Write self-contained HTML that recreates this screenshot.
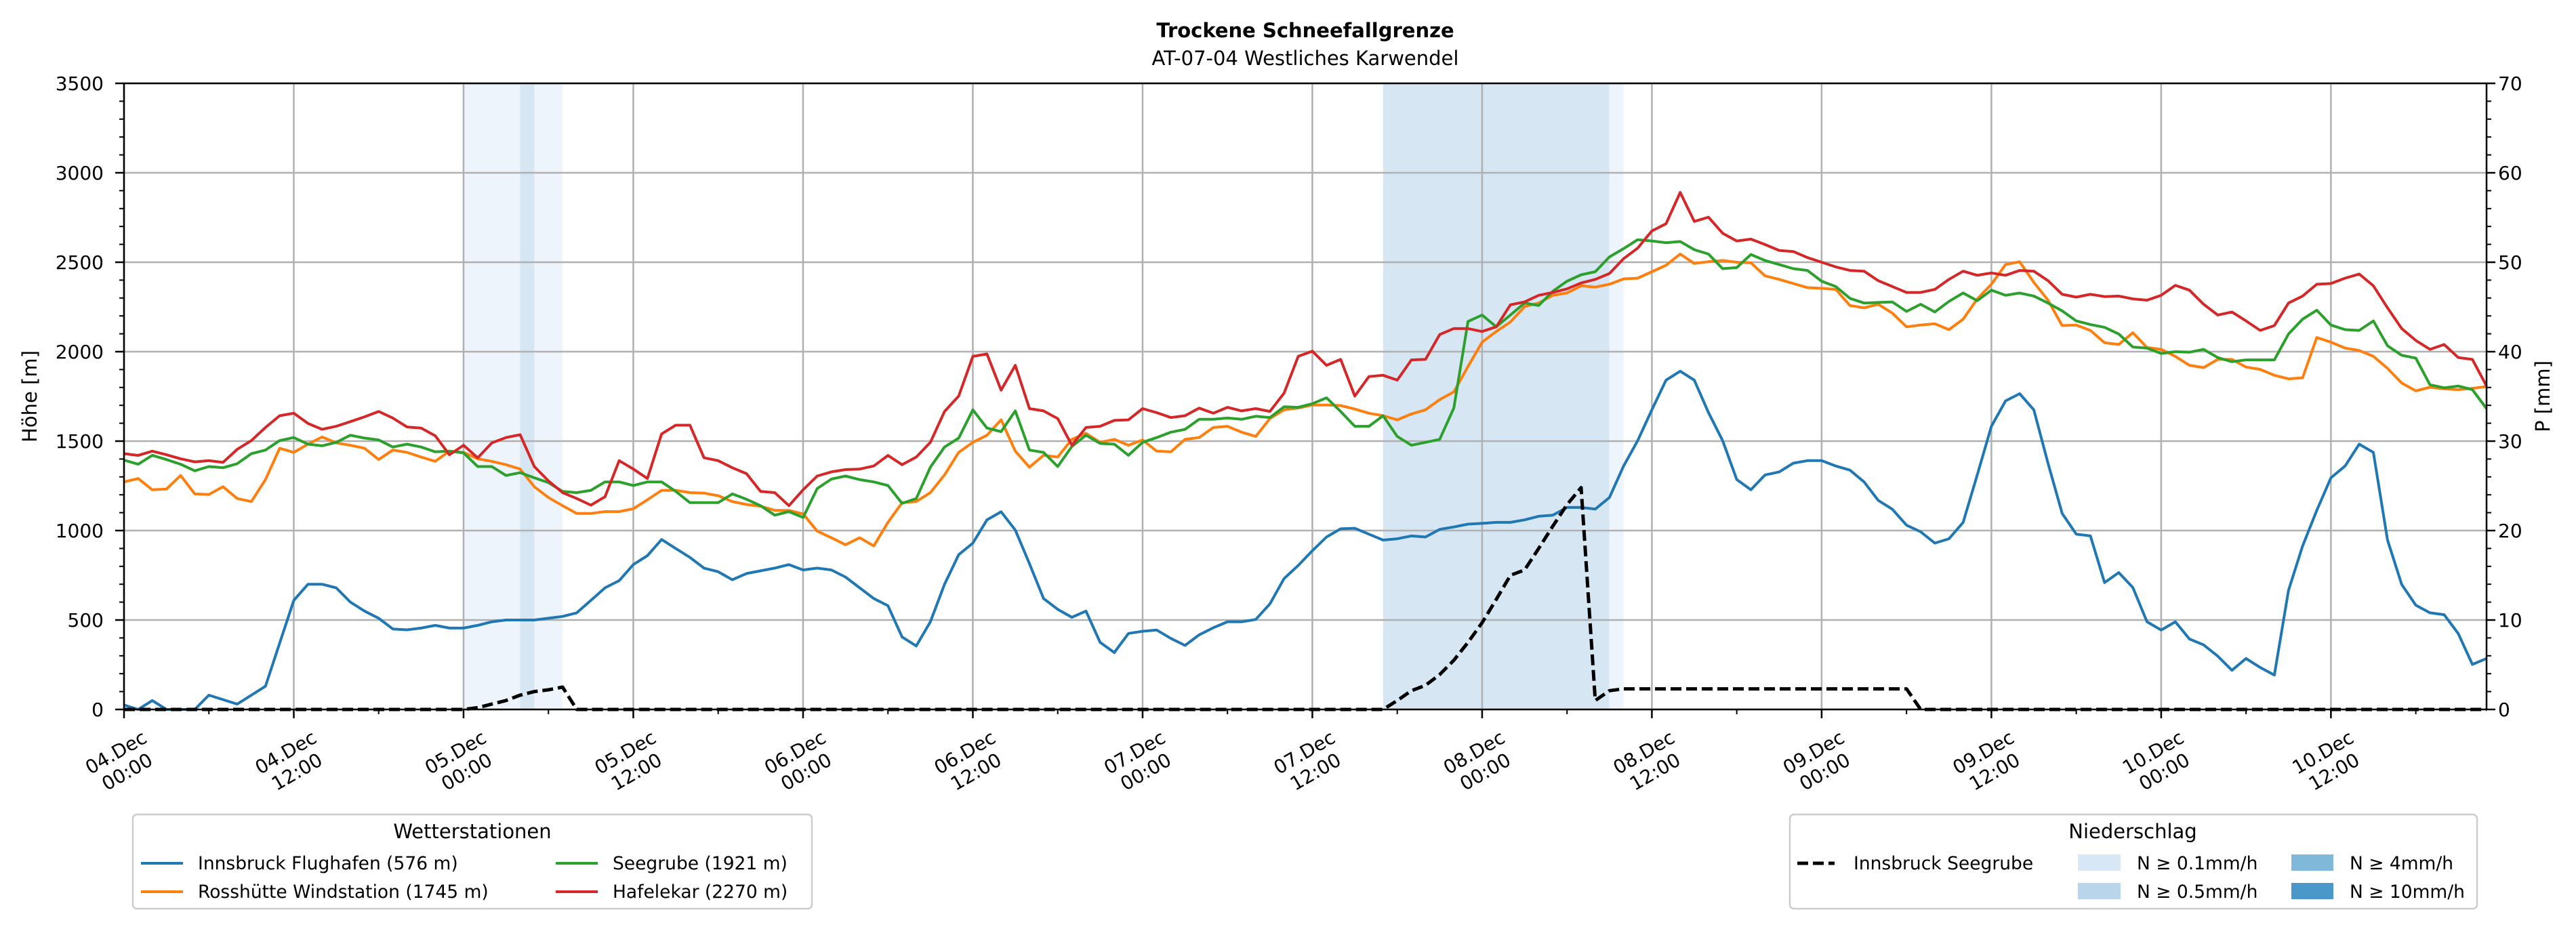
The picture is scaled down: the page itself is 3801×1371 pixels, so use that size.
<!DOCTYPE html>
<html><head><meta charset="utf-8"><style>
html,body{margin:0;padding:0;background:#fff}
svg{display:block}
text{font-family:"DejaVu Sans","Liberation Sans",sans-serif;fill:#000}
</style></head>
<body>
<svg id="chart" width="3801" height="1371" viewBox="0 0 3801 1371" xmlns="http://www.w3.org/2000/svg">
<rect x="0" y="0" width="3801" height="1371" fill="#fff"/>
<text x="1926" y="55" text-anchor="middle" font-size="29" font-weight="bold">Trockene Schneefallgrenze</text>
<text x="1926" y="96" text-anchor="middle" font-size="29">AT-07-04 Westliches Karwendel</text>
<g id="bands"></g>
<g id="grid"></g>
<g id="series"></g>
<g id="axes"></g>
<text transform="translate(54,585) rotate(-90)" text-anchor="middle" font-size="29">Höhe [m]</text>
<text transform="translate(3762,585) rotate(-90)" text-anchor="middle" font-size="29">P [mm]</text>

<g>
<rect x="196" y="1202" width="1002" height="139" rx="6" fill="#fff" stroke="#cccccc" stroke-width="2.5"/>
<text x="697" y="1237" text-anchor="middle" font-size="29">Wetterstationen</text>
<g><line x1="208" y1="1274" x2="270" y2="1274" stroke="#1f77b4" stroke-width="4"/><text x="292" y="1283" font-size="26.5">Innsbruck Flughafen (576 m)</text></g>
<g><line x1="208" y1="1316" x2="270" y2="1316" stroke="#ff7f0e" stroke-width="4"/><text x="292" y="1325" font-size="26.5">Rosshütte Windstation (1745 m)</text></g>
<g><line x1="820" y1="1274" x2="882" y2="1274" stroke="#2ca02c" stroke-width="4"/><text x="904" y="1283" font-size="26.5">Seegrube (1921 m)</text></g>
<g><line x1="820" y1="1316" x2="882" y2="1316" stroke="#d62728" stroke-width="4"/><text x="904" y="1325" font-size="26.5">Hafelekar (2270 m)</text></g>
</g>

<g>
<rect x="2641" y="1202" width="1014" height="139" rx="6" fill="#fff" stroke="#cccccc" stroke-width="2.5"/>
<text x="3147" y="1237" text-anchor="middle" font-size="29">Niederschlag</text>
<g><line x1="2652" y1="1274" x2="2707" y2="1274" stroke="#000" stroke-width="5" stroke-dasharray="16,7"/><text x="2735" y="1283" font-size="26.5">Innsbruck Seegrube</text></g>
<g><rect x="3066" y="1261" width="63" height="24" fill="#d8e7f5"/><text x="3153" y="1283" font-size="26.5">N ≥ 0.1mm/h</text></g>
<g><rect x="3066" y="1303" width="63" height="24" fill="#b9d5eb"/><text x="3153" y="1325" font-size="26.5">N ≥ 0.5mm/h</text></g>
<g><rect x="3381" y="1261" width="62" height="24" fill="#80b8da"/><text x="3467" y="1283" font-size="26.5">N ≥ 4mm/h</text></g>
<g><rect x="3381" y="1303" width="62" height="24" fill="#4a97c9"/><text x="3467" y="1325" font-size="26.5">N ≥ 10mm/h</text></g>
</g>
</svg>
<script>
const innsbruck=[25,0,50,0,0,0,80,55,30,80,130,370,610,700,700,680,600,550,510,450,445,455,470,455,455,470,490,500,500,500,510,520,540,610,680,720,810,860,950,900,850,790,770,725,760,775,790,810,780,790,780,740,680,620,580,405,355,490,700,865,930,1060,1105,1003,815,620,560,515,550,375,318,425,437,444,397,358,417,457,490,490,503,590,732,805,887,964,1010,1013,980,947,954,970,964,1007,1020,1036,1040,1046,1046,1060,1080,1086,1129,1129,1120,1185,1361,1503,1675,1841,1891,1841,1660,1503,1285,1228,1311,1328,1377,1391,1391,1361,1338,1272,1169,1119,1030,993,930,954,1046,1311,1583,1725,1765,1675,1377,1096,980,970,709,765,682,490,444,490,394,361,298,219,285,235,192,666,914,1113,1295,1361,1483,1437,947,699,583,540,530,424,252,285];
const rosshuette=[1272,1291,1228,1232,1308,1205,1202,1245,1179,1162,1285,1460,1437,1483,1523,1490,1477,1460,1397,1450,1437,1411,1387,1444,1437,1401,1387,1368,1344,1245,1185,1139,1096,1096,1106,1106,1122,1172,1225,1225,1212,1209,1195,1162,1146,1136,1113,1113,1093,997,960,921,960,914,1046,1156,1162,1212,1311,1437,1493,1533,1619,1444,1354,1421,1411,1510,1543,1493,1510,1477,1507,1444,1440,1510,1520,1576,1583,1550,1526,1626,1675,1685,1702,1702,1699,1679,1656,1642,1619,1652,1675,1732,1775,1917,2053,2113,2166,2252,2272,2315,2328,2368,2361,2377,2407,2411,2447,2483,2546,2493,2503,2510,2500,2497,2424,2404,2381,2358,2354,2348,2258,2245,2265,2215,2139,2149,2156,2123,2182,2295,2377,2487,2503,2387,2288,2146,2149,2119,2050,2040,2106,2023,2013,1974,1924,1911,1957,1957,1914,1901,1868,1848,1854,2079,2053,2020,2007,1974,1907,1825,1781,1801,1792,1788,1795,1805];
const seegrube=[1394,1371,1421,1397,1371,1334,1358,1351,1374,1430,1450,1503,1520,1483,1474,1493,1533,1517,1507,1467,1483,1467,1440,1444,1434,1358,1358,1308,1324,1295,1268,1219,1212,1225,1272,1272,1252,1272,1272,1219,1156,1156,1156,1205,1175,1139,1086,1106,1073,1235,1288,1305,1285,1272,1252,1152,1179,1354,1467,1517,1675,1573,1553,1669,1450,1437,1358,1470,1533,1487,1483,1421,1493,1520,1550,1566,1622,1622,1629,1622,1639,1632,1692,1689,1709,1742,1666,1583,1583,1642,1526,1477,1493,1510,1685,2169,2205,2139,2205,2272,2258,2338,2394,2430,2447,2530,2576,2626,2619,2609,2616,2570,2546,2464,2470,2543,2510,2487,2464,2454,2394,2364,2298,2272,2275,2278,2225,2265,2222,2281,2328,2285,2344,2315,2328,2311,2272,2228,2172,2152,2136,2099,2026,2020,1990,2000,1997,2013,1967,1944,1954,1954,1954,2099,2182,2232,2149,2123,2119,2172,2033,1980,1964,1815,1798,1808,1788,1682];
const hafelekar=[1430,1420,1444,1424,1401,1384,1391,1381,1454,1503,1576,1642,1656,1599,1566,1583,1609,1636,1666,1629,1579,1573,1530,1424,1477,1407,1490,1520,1536,1358,1278,1212,1179,1142,1189,1391,1344,1291,1540,1589,1589,1407,1391,1351,1318,1219,1212,1139,1228,1305,1328,1341,1344,1361,1420,1368,1411,1493,1666,1752,1974,1987,1785,1924,1682,1669,1626,1477,1576,1583,1616,1619,1682,1659,1632,1642,1685,1656,1689,1669,1682,1666,1768,1974,2003,1924,1957,1752,1861,1868,1841,1954,1957,2096,2129,2129,2113,2139,2262,2278,2315,2331,2351,2384,2404,2437,2520,2579,2675,2715,2890,2728,2752,2662,2619,2629,2599,2566,2560,2526,2500,2474,2454,2450,2397,2364,2331,2331,2348,2404,2450,2427,2440,2427,2454,2450,2397,2321,2305,2321,2308,2311,2295,2288,2315,2371,2344,2265,2205,2222,2172,2119,2146,2272,2311,2377,2381,2411,2434,2368,2245,2129,2063,2013,2040,1967,1957,1808];
const seegrubePrecip=[0,0,0,0,0,0,0,0,0,0,0,0,0,0,0,0,0,0,0,0,0,0,0,0,0,0.2,0.6,1.0,1.6,2.0,2.2,2.5,0,0,0,0,0,0,0,0,0,0,0,0,0,0,0,0,0,0,0,0,0,0,0,0,0,0,0,0,0,0,0,0,0,0,0,0,0,0,0,0,0,0,0,0,0,0,0,0,0,0,0,0,0,0,0,0,0,0,1.0,2.1,2.7,3.9,5.5,7.5,9.7,12.3,15.0,15.6,18.0,20.5,22.9,24.8,1.0,2.1,2.3,2.3,2.3,2.3,2.3,2.3,2.3,2.3,2.3,2.3,2.3,2.3,2.3,2.3,2.3,2.3,2.3,2.3,2.3,2.3,2.3,0,0,0,0,0,0,0,0,0,0,0,0,0,0,0,0,0,0,0,0,0,0,0,0,0,0,0,0,0,0,0,0,0,0,0,0,0,0,0,0,0];
const bandStart=[24,28,89,105];
const bandEnd=[31,29,105,106];
const bandLevel=[0.1,0.5,0.5,0.1];
const yTicks=[0,500,1000,1500,2000,2500,3000,3500];
const y2Ticks=[0,10,20,30,40,50,60,70];
const xTickDays=["04.Dec","04.Dec","05.Dec","05.Dec","06.Dec","06.Dec","07.Dec","07.Dec","08.Dec","08.Dec","09.Dec","09.Dec","10.Dec","10.Dec"];
const xTickTimes=["00:00","12:00","00:00","12:00","00:00","12:00","00:00","12:00","00:00","12:00","00:00","12:00","00:00","12:00"];

const NS="http://www.w3.org/2000/svg";
const L=183,R=3669,T=123,B=1047,HMAX=167,YMAX=3500,Y2MAX=70;
const xs=h=>L+h*(R-L)/HMAX;
const ys=v=>B-v*(B-T)/YMAX;
const y2s=v=>B-v*(B-T)/Y2MAX;
function mk(tag,attrs,parent){const e=document.createElementNS(NS,tag);for(const k in attrs)e.setAttribute(k,attrs[k]);parent.appendChild(e);return e;}
const gB=document.getElementById('bands'),gG=document.getElementById('grid'),gS=document.getElementById('series'),gA=document.getElementById('axes');

for(let i=0;i<bandStart.length;i++){
  const r=mk('rect',{x:xs(bandStart[i]),y:T,width:xs(bandEnd[i])-xs(bandStart[i]),height:B-T,fill:bandLevel[i]>=0.5?'#d6e6f3':'#edf4fb'},gB);
  
  
}
for(const v of yTicks){
  const l=mk('line',{x1:L,x2:R,y1:ys(v),y2:ys(v),stroke:'#b0b0b0','stroke-width':2.5},gG);
  
  
}
for(let i=0;i<xTickDays.length;i++){
  const x=xs(i*12);
  const l=mk('line',{x1:x,x2:x,y1:T,y2:B,stroke:'#b0b0b0','stroke-width':2.5},gG);
  
  
}
function line(data,scale,color,name,dash){
  const pts=data.map((v,i)=>xs(i).toFixed(1)+','+scale(v).toFixed(1)).join(' ');
  const p=mk('polyline',{points:pts,fill:'none',stroke:color,'stroke-width':dash?5:4,'stroke-linejoin':'round'},gS);
  if(dash)p.setAttribute('stroke-dasharray','16,7');
  
  
}
line(innsbruck,ys,'#1f77b4','line-innsbruck-flughafen');
line(rosshuette,ys,'#ff7f0e','line-rosshuette-windstation');
line(seegrube,ys,'#2ca02c','line-seegrube');
line(hafelekar,ys,'#d62728','line-hafelekar');
line(seegrubePrecip,y2s,'#000','line-innsbruck-seegrube-precip',true);

const frame=mk('rect',{x:L,y:T,width:R-L,height:B-T,fill:'none',stroke:'#000','stroke-width':2.5},gA);


for(let v=0;v<=YMAX;v+=100){
  const major=v%500===0;
  mk('line',{x1:L-(major?13:7),x2:L,y1:ys(v),y2:ys(v),stroke:'#000','stroke-width':major?2.5:2},gA);
}
for(let v=0;v<=Y2MAX;v+=2){
  const major=v%10===0;
  mk('line',{x1:R,x2:R+(major?13:7),y1:y2s(v),y2:y2s(v),stroke:'#000','stroke-width':major?2.5:2},gA);
}
for(const v of yTicks){
  const t=mk('text',{x:153,y:ys(v)+10,'text-anchor':'end','font-size':28},gA);
  t.textContent=v;
  
  
}
for(const v of y2Ticks){
  const t=mk('text',{x:3686,y:y2s(v)+10,'text-anchor':'start','font-size':28},gA);
  t.textContent=v;
  
  
}
for(let h=0;h<=HMAX;h+=6){
  const major=h%12===0;
  mk('line',{x1:xs(h),x2:xs(h),y1:B,y2:B+(major?13:7),stroke:'#000','stroke-width':major?2.5:2},gA);
}
for(let i=0;i<xTickDays.length;i++){
  const g=mk('g',{transform:'translate('+(xs(i*12)-4)+',1124) rotate(-30)'},gA);
  
  
  const a=mk('text',{x:0,y:-6,'text-anchor':'middle','font-size':28},g);a.textContent=xTickDays[i];
  const b=mk('text',{x:0,y:27,'text-anchor':'middle','font-size':28},g);b.textContent=xTickTimes[i];
}
</script>
</body></html>
